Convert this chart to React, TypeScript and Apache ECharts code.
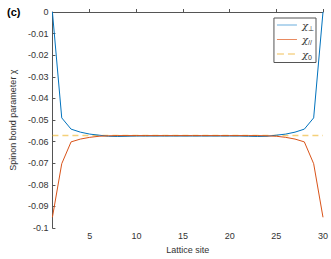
import React, { useEffect, useRef } from "react";
import * as echarts from "echarts";

const sites = Array.from({ length: 30 }, (_, i) => i + 1);
const chiPerp = [
  0, -0.049, -0.0542, -0.0556, -0.0565, -0.057, -0.0575, -0.0576, -0.0575, -0.0574,
  -0.0574, -0.0574, -0.0574, -0.0574, -0.0574, -0.0574, -0.0574, -0.0574, -0.0574, -0.0574,
  -0.0574, -0.0575, -0.0576, -0.0575, -0.057, -0.0565, -0.0556, -0.0542, -0.049, 0,
];
const chiPar = [
  -0.095, -0.0702, -0.0601, -0.0588, -0.058, -0.0575, -0.0573, -0.0572, -0.0572, -0.0572,
  -0.0572, -0.0572, -0.0572, -0.0572, -0.0572, -0.0572, -0.0572, -0.0572, -0.0572, -0.0572,
  -0.0572, -0.0572, -0.0572, -0.0573, -0.0575, -0.058, -0.0588, -0.0601, -0.0702, -0.095,
];
const chi0 = -0.0572;
const xTicks = [5, 10, 15, 20, 25, 30];

const corners = "M0,0 L0.01,0 L0,0.01 Z M19.99,10 L20,10 L20,9.99 Z ";
const solidIcon = "path://" + corners + "M0,4.4 L20,4.4 L20,5.6 L0,5.6 Z";
const dashIcon =
  "path://" + corners + "M0,4.2 L7,4.2 L7,5.8 L0,5.8 Z M11,4.2 L18,4.2 L18,5.8 L11,5.8 Z";

export default function App() {
  const ref = useRef<HTMLDivElement>(null);
  useEffect(() => {
    if (!ref.current) return;
    const chart = echarts.init(ref.current, null, { renderer: "svg" });
    const font = "Liberation Sans, Arial, sans-serif";
    const axisColor = "#555";
    chart.setOption({
      animation: false,
      textStyle: { fontFamily: font },
      title: {
        text: "(c)",
        left: 2,
        top: 1,
        textStyle: { fontSize: 11, fontWeight: "bold", color: "#000", fontFamily: font },
      },
      grid: { left: 42, right: 6, top: 12, bottom: 23 },
      legend: {
        right: 15,
        top: 18,
        orient: "vertical",
        itemWidth: 20,
        itemHeight: 10,
        itemGap: 3,
        padding: [2, 2, 2, 3],
        borderColor: "#555",
        borderWidth: 1,
        backgroundColor: "#fff",
        data: [
          { name: "perp", icon: solidIcon, itemStyle: { color: "#6AAEDD" } },
          { name: "par", icon: solidIcon, itemStyle: { color: "#E98A60" } },
          { name: "zero", icon: dashIcon, itemStyle: { color: "#F6D58E" } },
        ],
        formatter: (name: string) => {
          if (name === "perp") return "{a|χ}{s|⊥}";
          if (name === "par") return "{a|χ}{s|//}";
          return "{a|χ}{s|0}";
        },
        textStyle: {
          rich: {
            a: { fontSize: 10, color: "#333", fontFamily: "DejaVu Serif, serif", fontStyle: "italic" },
            s: { fontSize: 7, color: "#333", padding: [6, 0, 0, 0], fontFamily: font },
          },
        },
      },
      xAxis: {
        type: "value",
        min: 1,
        max: 30,
        name: "Lattice site",
        nameLocation: "middle",
        nameGap: 16,
        nameTextStyle: { fontSize: 9, color: "#333" },
        axisLine: { lineStyle: { color: axisColor, width: 1 } },
        axisTick: { inside: true, length: 3, customValues: xTicks, lineStyle: { color: axisColor } },
        axisLabel: { customValues: xTicks, fontSize: 9, color: "#333", margin: 3 },
        splitLine: { show: false },
      },
      yAxis: {
        type: "value",
        min: -0.1,
        max: 0,
        interval: 0.01,
        name: "Spinon bond parameter χ",
        nameLocation: "middle",
        nameGap: 32,
        nameTextStyle: { fontSize: 9, color: "#333" },
        axisLine: { show: true, lineStyle: { color: axisColor, width: 1 } },
        axisTick: { show: true, inside: true, length: 3, lineStyle: { color: axisColor } },
        axisLabel: {
          fontSize: 9,
          color: "#333",
          margin: 4,
          formatter: (v: number) => String(parseFloat(v.toFixed(2))),
        },
        splitLine: { show: false },
      },
      series: [
        {
          name: "perp",
          type: "line",
          data: sites.map((s, i) => [s, chiPerp[i]]),
          showSymbol: false,
          symbol: "none",
          lineStyle: { color: "#0072BD", width: 1 },
          itemStyle: { color: "#0072BD" },
          z: 3,
        },
        {
          name: "par",
          type: "line",
          data: sites.map((s, i) => [s, chiPar[i]]),
          showSymbol: false,
          symbol: "none",
          lineStyle: { color: "#D95319", width: 1 },
          itemStyle: { color: "#D95319" },
          z: 4,
        },
        {
          name: "zero",
          type: "line",
          data: sites.map((s) => [s, chi0]),
          showSymbol: false,
          symbol: "none",
          lineStyle: { color: "#EDB120", width: 1.5, type: [6, 4], opacity: 0.6 },
          itemStyle: { color: "#EDB120" },
          z: 2,
        },
      ],
    });
    return () => chart.dispose();
  }, []);
  return (
    <div
      ref={ref}
      style={{ position: "fixed", left: 0, top: 0, width: 331, height: 259, background: "#fff" }}
    />
  );
}
